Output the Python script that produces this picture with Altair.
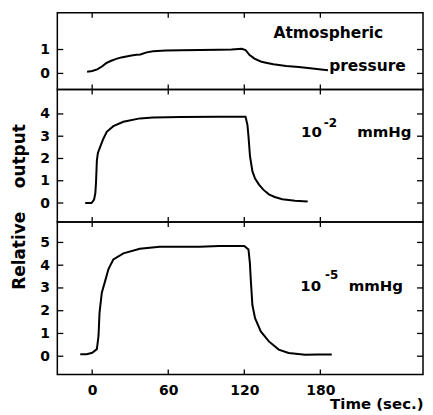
import altair as alt
import pandas as pd

# ---- data ----
atm_t = [-4, 0, 4, 8, 11, 15, 19, 23, 27, 31, 35, 38, 43, 48, 58, 70, 85, 100, 110, 118, 121, 124, 128, 133, 137, 143, 153, 163, 172, 186]
atm_v = [0.07, 0.1, 0.17, 0.3, 0.43, 0.53, 0.61, 0.67, 0.71, 0.75, 0.78, 0.79, 0.88, 0.93, 0.96, 0.97, 0.98, 0.99, 1.0, 1.03, 0.98, 0.78, 0.62, 0.5, 0.45, 0.38, 0.31, 0.27, 0.22, 0.13]

mid_t = [-5.5, -0.5, 1.5, 2.5, 3.0, 3.7, 4.5, 6.3, 8.9, 11.5, 16.7, 24.6, 37.6, 48, 70, 100, 121, 122.5, 123.3, 124.5, 126.4, 128.5, 131.6, 135, 139.4, 144, 150, 160, 170]
mid_v = [0, 0, 0.15, 0.45, 0.9, 1.9, 2.25, 2.52, 2.9, 3.2, 3.45, 3.65, 3.8, 3.84, 3.86, 3.87, 3.87, 3.5, 3.0, 2.1, 1.43, 1.1, 0.83, 0.6, 0.39, 0.27, 0.17, 0.1, 0.07]

bot_t = [-9.4, -4.2, 0, 3.7, 5, 5.8, 7.6, 10.2, 12.8, 14, 16.7, 24.6, 37.6, 53.3, 85, 100, 120, 123.3, 124.4, 125.2, 126.4, 128.5, 133, 139.4, 147.2, 155, 168, 178, 189]
bot_v = [0.09, 0.09, 0.15, 0.31, 0.89, 1.92, 2.79, 3.3, 3.82, 3.96, 4.25, 4.52, 4.72, 4.81, 4.81, 4.84, 4.84, 4.69, 4.1, 3.3, 2.25, 1.67, 1.09, 0.65, 0.29, 0.14, 0.06, 0.08, 0.08]

x_ticks = [0, 60, 120, 180]
atm_ticks = [0, 1]
mid_ticks = [0, 1, 2, 3, 4]
bot_ticks = [0, 1, 2, 3, 4, 5]

atm_labels = ["Atmospheric", "pressure"]
mid_labels = ["10", "-2", "mmHg"]
bot_labels = ["10", "-5", "mmHg"]

FONT = "DejaVu Sans"
W = 367
X_DOMAIN = [-27.5, 261.0]


def panel(t, v, yticks, ydomain, H, texts, show_x=False, ytitle=None):
    xenc = alt.X(
        "t:Q",
        scale=alt.Scale(domain=X_DOMAIN, nice=False, zero=False),
        axis=(alt.Axis(values=x_ticks, ticks=False, tickSize=0, domain=False, grid=False,
                       labelPadding=9, labelFont=FONT, labelFontSize=14, labelFontWeight="bold",
                       labelColor="black", title="Time (sec.)", titleFont=FONT, titleFontSize=15,
                       titleFontWeight="bold", titleColor="black", titleAlign="right",
                       titleX=W, titleY=29, titleBaseline="middle")
              if show_x else None),
    )
    yaxis_kw = dict(values=yticks, ticks=False, tickSize=0, domain=False, grid=False,
                    labelPadding=8, labelFont=FONT, labelFontSize=14, labelFontWeight="bold",
                    labelColor="black")
    if ytitle:
        yaxis_kw.update(title=ytitle, titleFont=FONT, titleFontSize=17, titleFontWeight="bold",
                        titleColor="black", titleAngle=270, titleX=-38, titleY=117.5,
                        titleAlign="center", titleBaseline="middle")
    else:
        yaxis_kw.update(title=None)
    yenc = alt.Y("v:Q", scale=alt.Scale(domain=ydomain, nice=False, zero=False),
                 axis=alt.Axis(**yaxis_kw))

    line = alt.Chart(pd.DataFrame({"t": t, "v": v})).mark_line(
        color="black", strokeWidth=2).encode(x=xenc, y=yenc)

    ydf = pd.DataFrame({"v": yticks})
    left = alt.Chart(ydf).mark_rule(color="black", strokeWidth=1.3).encode(
        y=yenc, x=alt.value(0), x2=alt.value(6))
    right = alt.Chart(ydf).mark_rule(color="black", strokeWidth=1.3).encode(
        y=yenc, x=alt.value(W - 6), x2=alt.value(W))
    xdf = pd.DataFrame({"t": x_ticks})
    top = alt.Chart(xdf).mark_rule(color="black", strokeWidth=1.3).encode(
        x=xenc, y=alt.value(0), y2=alt.value(5))
    bottom = alt.Chart(xdf).mark_rule(color="black", strokeWidth=1.3).encode(
        x=xenc, y=alt.value(H - 5), y2=alt.value(H))

    layers = [line, left, right, top, bottom]
    for (lab, tt, vv, size, align) in texts:
        layers.append(
            alt.Chart(pd.DataFrame({"t": [tt], "v": [vv], "label": [lab]})).mark_text(
                font=FONT, fontSize=size, fontWeight="bold", color="black",
                align=align, baseline="middle").encode(x=xenc, y=yenc, text="label:N"))
    return alt.layer(*layers).properties(width=W, height=H)


top_panel = panel(atm_t, atm_v, atm_ticks, [-0.67, 2.54], 77,
                  [(atm_labels[0], 186.3, 1.69, 15.5, "center"),
                   (atm_labels[1], 187, 0.29, 15.5, "left")])
mid_panel = panel(mid_t, mid_v, mid_ticks, [-0.85, 5.1], 133,
                  [(mid_labels[0], 173, 3.17, 15, "center"),
                   (mid_labels[1], 188, 3.6, 12, "center"),
                   (mid_labels[2], 230.5, 3.17, 15, "center")],
                  ytitle="Relative\u00a0\u00a0\u00a0\u00a0output")
bot_panel = panel(bot_t, bot_v, bot_ticks, [-0.8, 5.9], 153,
                  [(bot_labels[0], 172.4, 3.1, 15, "center"),
                   (bot_labels[1], 189, 3.55, 12, "center"),
                   (bot_labels[2], 223.8, 3.1, 15, "center")],
                  show_x=True)

chart = alt.vconcat(top_panel, mid_panel, bot_panel, spacing=0, bounds="flush").properties(
    padding={"left": 1.5, "top": 2, "right": 0, "bottom": 0}
).configure(background="white").configure_view(stroke="black", strokeWidth=1.5)

chart.save("out.html", embed_options={"renderer": "svg", "actions": False})
